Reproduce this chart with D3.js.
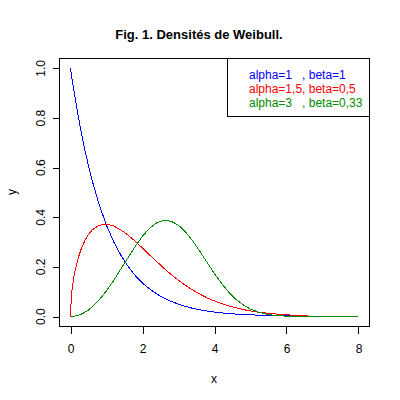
<!DOCTYPE html>
<html>
<head>
<meta charset="utf-8">
<script src="https://cdn.jsdelivr.net/npm/d3@7"></script>
<style>
  body { margin: 0; background: #fff; }
  svg { display: block; }
  text { font-family: "Liberation Sans", Arial, sans-serif; }
</style>
</head>
<body>
<svg id="chart" width="400" height="400"></svg>
<script>
// x grid shared by the three densities
const xs = [0, 0.02, 0.05, 0.1, 0.2, 0.3, 0.4, 0.5, 0.6, 0.8, 1.0, 1.2, 1.4, 1.6, 1.8,
  2.0, 2.2, 2.4, 2.6, 2.8, 3.0, 3.2, 3.4, 3.6, 3.8, 4.0, 4.2, 4.4, 4.6, 4.8, 5.0,
  5.2, 5.4, 5.6, 5.8, 6.0, 6.2, 6.4, 6.6, 6.8, 7.0, 7.2, 7.4, 7.6, 7.8, 8.0];

// alpha=1, beta=1
const blueY = [1.000, 0.980, 0.951, 0.905, 0.819, 0.741, 0.670, 0.607, 0.549, 0.449,
  0.368, 0.301, 0.247, 0.202, 0.165, 0.135, 0.111, 0.091, 0.074, 0.061, 0.050,
  0.041, 0.033, 0.027, 0.022, 0.018, 0.015, 0.012, 0.010, 0.008, 0.007, 0.006,
  0.005, 0.004, 0.003, 0.0025, 0.002, 0.0017, 0.0014];

// alpha=1,5, beta=0,5
const redY = [0, 0.075, 0.118, 0.166, 0.230, 0.274, 0.307, 0.331, 0.349, 0.368,
  0.372, 0.365, 0.349, 0.328, 0.303, 0.276, 0.248, 0.221, 0.194, 0.169, 0.146,
  0.125, 0.107, 0.090, 0.075, 0.063, 0.052, 0.043, 0.035, 0.028, 0.023, 0.018,
  0.015, 0.012, 0.009, 0.007, 0.0056, 0.0044, 0.0034];

// alpha=3, beta=0,33
const greenY = [0, 0.0000, 0.0003, 0.0011, 0.0043, 0.0097, 0.0172, 0.0268, 0.0385,
  0.0677, 0.104, 0.146, 0.192, 0.238, 0.283, 0.324, 0.356, 0.378, 0.388, 0.384,
  0.368, 0.340, 0.304, 0.261, 0.217, 0.173, 0.133, 0.098, 0.069, 0.047, 0.030,
  0.019, 0.011, 0.0062, 0.0033, 0.0017, 0.0008, 0.0003, 0.0001, 0, 0, 0, 0, 0, 0, 0];

const xTicks = [0, 2, 4, 6, 8];
const yTicks = [0, 0.2, 0.4, 0.6, 0.8, 1.0];
const legendLabels = ["alpha=1   , beta=1", "alpha=1,5, beta=0,5", "alpha=3   , beta=0,33"];
const colors = ["#0000ff", "#ff0000", "#008b00"];

const svg = d3.select("#chart");

// plot region (R style: 4% extension of the data range)
const x = d3.scaleLinear().domain([-0.32, 8.32]).range([59, 370]);
const y = d3.scaleLinear().domain([-0.04, 1.04]).range([326.5, 58.5]);

const series = [blueY, redY, greenY].map((ys, i) => ({
  color: colors[i],
  points: ys.map((v, j) => [xs[j], v]),
}));

const line = d3.line()
  .x((d) => x(d[0]))
  .y((d) => y(d[1]));

svg.append("g")
  .selectAll("path")
  .data(series)
  .join("path")
  .attr("d", (d) => line(d.points))
  .attr("fill", "none")
  .attr("stroke", (d) => d.color)
  .attr("stroke-width", 1)
  .attr("shape-rendering", "crispEdges");

// box
svg.append("rect")
  .attr("x", 59.5)
  .attr("y", 58.5)
  .attr("width", 310)
  .attr("height", 268)
  .attr("fill", "none")
  .attr("stroke", "#000")
  .attr("shape-rendering", "crispEdges");

// x axis
const gx = svg.append("g")
  .attr("transform", "translate(0,326.5)")
  .call(d3.axisBottom(x).tickValues(xTicks).tickSize(7).tickPadding(11)
    .tickFormat(d3.format("d")));
gx.select(".domain").remove();
gx.selectAll("line").attr("shape-rendering", "crispEdges");
gx.selectAll("text").attr("font-size", 12).attr("fill", "#000")
  .style("font-family", "'Liberation Sans', Arial, sans-serif");

// y axis
const gy = svg.append("g")
  .attr("transform", "translate(59.5,0)")
  .call(d3.axisLeft(y).tickValues(yTicks).tickSize(7).tickFormat(""));
gy.select(".domain").remove();
gy.selectAll("line").attr("shape-rendering", "crispEdges");

svg.append("g")
  .selectAll("text")
  .data(yTicks)
  .join("text")
  .attr("transform", (d) => `translate(45,${y(d)}) rotate(-90)`)
  .attr("text-anchor", "middle")
  .attr("font-size", 12)
  .text(d3.format(".1f"));

// axis titles
svg.append("text")
  .attr("x", 214)
  .attr("y", 383)
  .attr("text-anchor", "middle")
  .attr("font-size", 12)
  .text("x");

svg.append("text")
  .attr("transform", "translate(16,192) rotate(-90)")
  .attr("text-anchor", "middle")
  .attr("font-size", 12)
  .text("y");

// title
svg.append("text")
  .attr("x", 199)
  .attr("y", 39)
  .attr("text-anchor", "middle")
  .attr("font-size", 13)
  .attr("font-weight", "bold")
  .text("Fig. 1. Densités de Weibull.");

// legend
svg.append("rect")
  .attr("x", 227.5)
  .attr("y", 58.5)
  .attr("width", 142)
  .attr("height", 58)
  .attr("fill", "#fff")
  .attr("stroke", "#000")
  .attr("shape-rendering", "crispEdges");

svg.append("g")
  .selectAll("text")
  .data(legendLabels)
  .join("text")
  .attr("x", 249)
  .attr("y", (d, i) => 79 + i * 14)
  .attr("font-size", 12)
  .attr("fill", (d, i) => colors[i])
  .style("white-space", "pre")
  .text((d) => d);
</script>
</body>
</html>
